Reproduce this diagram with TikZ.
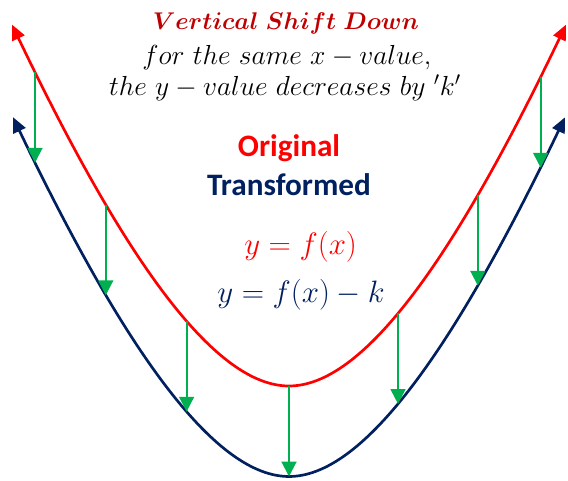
\RequirePackage{fix-cm}
\documentclass[tikz,border=0pt]{standalone}
\usepackage{amsmath,bm}
\usepackage{fontspec}
\newfontfamily\calibri{Carlito}
\usetikzlibrary{arrows.meta}
\definecolor{origred}{RGB}{255,0,0}
\definecolor{transblue}{RGB}{0,32,96}
\definecolor{shiftgreen}{RGB}{0,176,80}
\definecolor{titlered}{RGB}{192,0,0}

\begin{document}
\begin{tikzpicture}[
    declare function={hp(\t)=\t*\t/(3.3025+0.2895*abs(\t));},
    curve/.style={line width=1.9pt,
      {Triangle[length=0.38cm,width=0.33cm]}-{Triangle[length=0.38cm,width=0.33cm]}},
    shiftarrow/.style={shiftgreen,line width=1.4pt,-{Triangle[length=0.37cm,width=0.37cm]}},
    legend/.style={font=\calibri\bfseries\fontsize{22.2}{26}\selectfont},
    formula/.style={font=\fontsize{22}{26}\selectfont},
    note/.style={inner sep=0pt,font=\fontsize{19.6}{23}\selectfont}
  ]
    \useasboundingbox (-7.225,0) rectangle (6.975,12);
    % original and shifted curves
    \draw[curve,origred] plot[domain=-6.925:6.925,samples=150] (\x,{2.35+hp(\x)});
    \draw[curve,transblue] plot[domain=-6.9:6.9,samples=150] (\x,{0.0875+hp(\x)});
    % downward shift arrows
    \foreach \d [count=\i] in {-6.35,-4.58,-2.56,0,2.725,4.72,6.29} {
      \coordinate (o\i) at (\d,{2.35+hp(\d)});
      \coordinate (t\i) at (\d,{0.0875+hp(\d)});
      \draw[shiftarrow] (o\i) -- (t\i);
    }
    % texts
    \node[note,font=\fontsize{17.2}{21}\selectfont,titlered] (title) at (-0.075,11.42) {$\bm{Vertical\ Shift\ Down}$};
    \node[note] (line1) at (-0.05,10.55) {$for\ the\ same\ x-value,$};
    \node[note] (line2) at (-0.1,9.8) {$the\ y-value\ decreases\ by\ {}'k'$};
    \node[legend,origred] (orig) at (0,8.3) {Original};
    \node[legend,transblue] (trans) at (0,7.375) {Transformed};
    \node[formula,origred] (feq) at (0.29,5.83) {$y=f(x)$};
    \node[formula,transblue] (geq) at (0.3,4.63) {$y=f(x)-k$};
\end{tikzpicture}
\end{document}
